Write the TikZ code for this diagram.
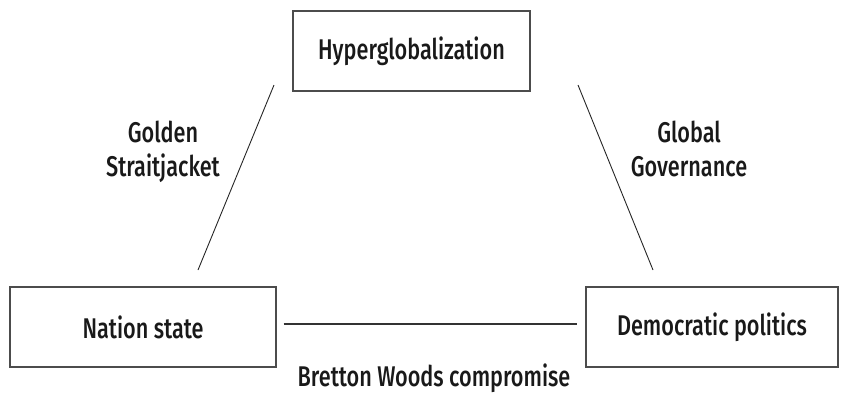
\documentclass[tikz,border=0pt]{standalone}
\usepackage{fontspec}
\setmainfont[FakeStretch=0.76]{Fira Sans Medium}
\begin{document}
\begin{tikzpicture}[x=1pt, y=-1pt,
        box/.style={draw=black!70, line width=1.2pt, minimum height=80pt, font=\fontsize{28.5}{34}\selectfont, text=black!90},
        lbl/.style={align=center, inner sep=0pt, font=\fontsize{28.5}{34}\selectfont, text=black!90}]
        \useasboundingbox (0,0) rectangle (842,394);
        \node[box, minimum width=237pt] (hyper) at (411.5,51) {Hyperglobalization};
        \node[box, minimum width=266pt] (nation) at (143,327) {Nation state};
        \node[box, minimum width=252pt] (demo) at (712,327) {Democratic politics};
        \coordinate (gsTop) at (274,85);
        \coordinate (gsBot) at (198,270);
        \coordinate (ggTop) at (578,85);
        \coordinate (ggBot) at (653,270);
        \draw[black!85, line width=0.9pt] (gsTop) -- (gsBot);
        \draw[black!85, line width=0.9pt] (ggTop) -- (ggBot);
        \draw[black!80, line width=1.1pt] ([xshift=7pt, yshift=3pt]nation.east) -- ([xshift=-8pt, yshift=3pt]demo.west);
        \node[lbl] (golden) at (163,152) {Golden\\Straitjacket};
        \node[lbl] (global) at (689,149) {Global\\Governance};
        \node[lbl, anchor=base] (bretton) at (434,386) {Bretton Woods compromise};
\end{tikzpicture}
\end{document}
